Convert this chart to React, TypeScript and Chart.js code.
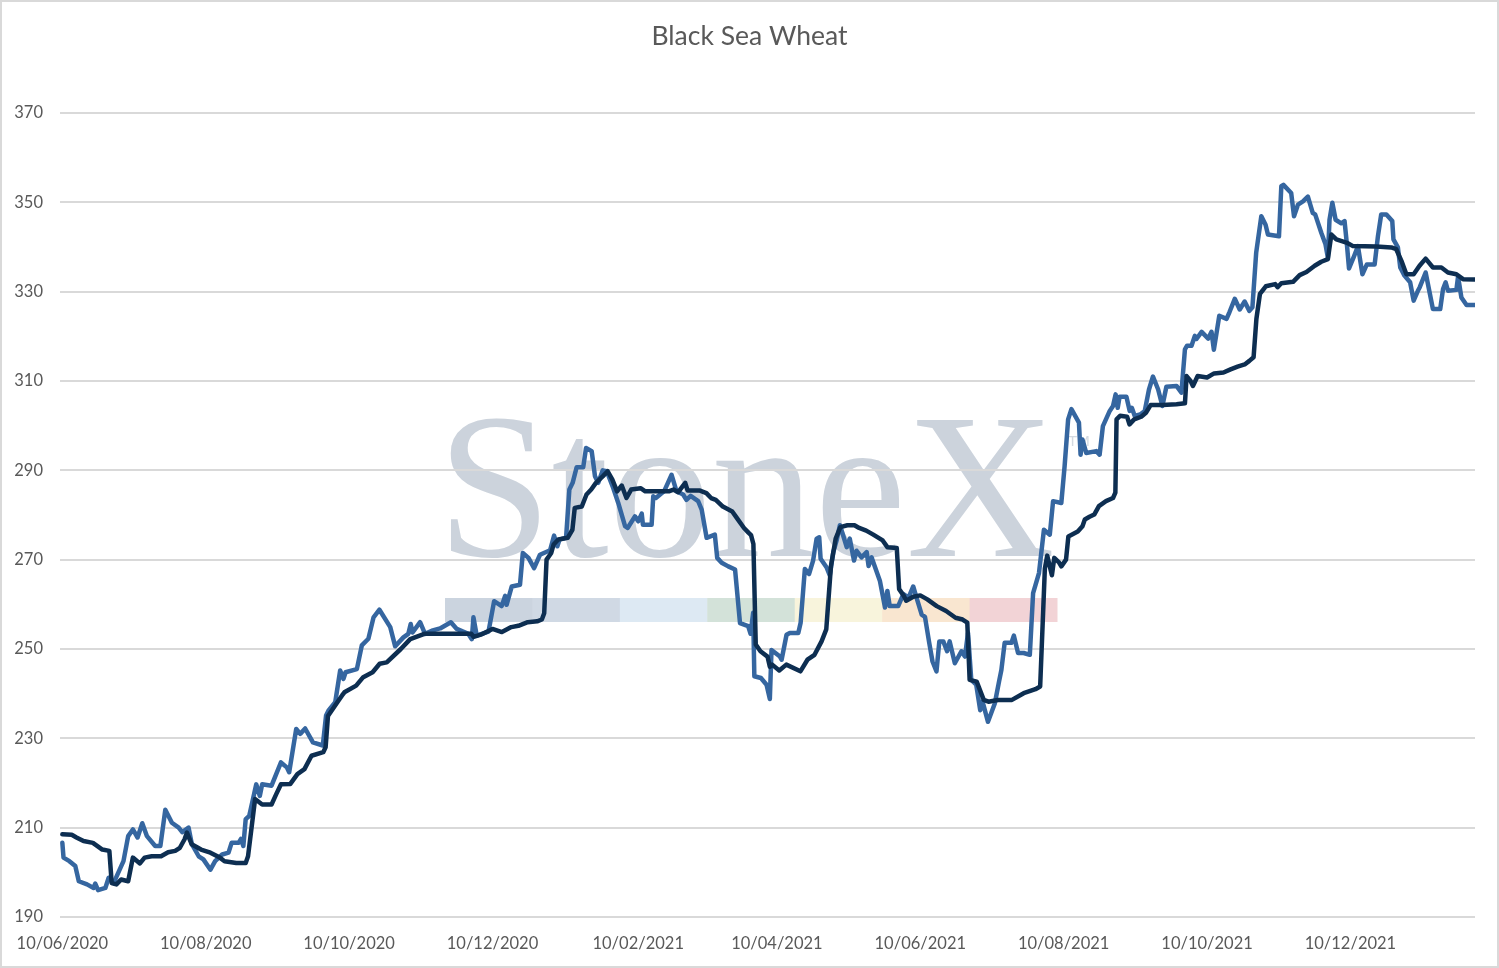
import React, { useEffect, useRef } from 'react';
import { Chart, registerables, Plugin } from 'chart.js';

Chart.register(...registerables);

const chartTitle = 'Black Sea Wheat';

// x values are days counted from 10/06/2020
const tickDays = [0, 61, 122, 183, 245, 304, 365, 426, 487, 548];
const tickLabels = [
    '10/06/2020', '10/08/2020', '10/10/2020', '10/12/2020', '10/02/2021',
    '10/04/2021', '10/06/2021', '10/08/2021', '10/10/2021', '10/12/2021',
];

const priceDays = [
    0, 0.5, 3, 5.5, 7, 10.5, 13.3, 14, 15.2, 18.3, 19.7, 21.8, 26, 28, 30, 32, 34, 36, 39.5, 41.7,
    43.8, 46.6, 49.5, 51, 53.7, 55.1, 58, 60, 63, 65, 68, 70.7, 72, 75, 76, 77, 78, 79.5, 82.5, 84,
    85, 89, 93, 95.5, 96.5, 99.5, 101.2, 103.3, 106.6, 110.8, 112.2, 113.2, 116.1, 118.2, 119.6, 120.5, 125.3, 127.4, 130.2, 132.4,
    134.9, 139.5, 141.6, 145.1, 147.2, 148.2, 149, 152.2, 154.3, 157.2, 160.7, 165.3, 167.8, 172.7, 174.2, 174.9, 176.3, 181.3, 183.7, 186.9,
    188.4, 189, 191.2, 194.7, 195.9, 198.3, 200.7, 203.2, 207.5, 209.2, 210.6, 211.5, 214.3, 215.7, 217.1, 218.8, 221.6, 222.8, 225.2, 226.6,
    228, 229.9, 231.6, 234.4, 236.5, 239.4, 240.5, 243.6, 245, 246.5, 247, 250.7, 251.4, 252.5, 254.3, 256, 259.2, 261.3, 264.1, 265.5,
    267.3, 270.5, 272, 274.1, 277.6, 278.6, 280.5, 283.3, 286.2, 288.3, 291.8, 292.8, 293.9, 294.4, 297.2, 299.6, 301, 301.7, 305.3, 306,
    308.1, 309.5, 313.1, 314.1, 315.9, 317.7, 319.4, 320.9, 322, 322.6, 325.1, 326.5, 328, 329.4, 330.8, 332.2, 333.7, 335, 336.8, 337.9,
    340, 342.2, 343, 344.3, 347.8, 350, 351, 352, 355.6, 357.8, 360, 362, 363.4, 365.6, 367, 368.8, 370.2, 371.9, 373.1, 374.8,
    376.4, 377.5, 379.7, 382.5, 384, 385.3, 386.7, 388.8, 390.5, 391.5, 393.8, 396.7, 398.5, 399.5, 400.9, 403.8, 404.8, 406.6, 409, 411.6,
    413, 415.5, 417.6, 420.1, 421.5, 425, 426.4, 427.9, 429.3, 432.5, 433.2, 434, 435.6, 439.9, 441.3, 442.7, 445.6, 447, 448.1, 449,
    449.8, 452.7, 454.1, 455, 456.2, 458.5, 460.5, 462.3, 464, 466.2, 468, 469.7, 474, 476.1, 477.6, 478.5, 480.4, 481.8, 482.5, 484.7,
    487.5, 488.9, 489.9, 492.2, 495.3, 496.6, 498.8, 500.9, 503, 505, 506.3, 507.9, 510.1, 511.9, 512.9, 517.6, 518.6, 519.5, 522.8, 524,
    525.7, 527.8, 529.9, 532, 533, 535.6, 537.4, 538.4, 539.1, 540.3, 541.7, 544.1, 545.5, 546.5, 547.4, 549.3, 551.2, 553.1, 555, 558.3,
    559.7, 561.1, 563.3, 565.8, 566.3, 568.2, 569.2, 571, 573.4, 574.9, 576.7, 577.5, 580, 583.1, 586.2, 587.4, 588.5, 589.5, 593.1, 593.8,
    595.2, 597.4, 601,
];
const priceValues = [
    206.6, 203.3, 202.5, 201.4, 198, 197.3, 196.5, 197.5, 196, 196.5, 198.8, 197.6, 202.5, 208.1, 209.6, 207.8, 211, 208.1, 205.9, 205.9,
    214, 211.1, 210, 209, 210, 206.3, 203.6, 202.9, 200.6, 202.5, 204, 204.4, 206.6, 206.6, 207.5, 205.9, 211.9, 212.6, 219.7, 217.1,
    219.7, 219.4, 224.6, 223.5, 222.4, 232.1, 231, 232.2, 229.1, 228.4, 235.1, 236.2, 238.1, 245.2, 243.3, 244.8, 245.5, 250.8, 252.3, 257.1,
    258.8, 254.9, 250.6, 252.6, 253.4, 255.6, 253.7, 256, 253.4, 254.1, 254.6, 256, 254.5, 253.4, 252.2, 257.1, 253, 253.9, 260.7, 259.6,
    261.9, 259.9, 264, 264.4, 271.5, 270.4, 268.1, 271.1, 272.1, 275.4, 273, 274.5, 274.9, 285.7, 287.2, 290.7, 290.7, 295, 294.3, 288.7,
    287.2, 290, 289.8, 286, 282.7, 277.5, 277.1, 279.7, 278.6, 280.3, 277.8, 277.8, 284.2, 283.8, 284.6, 285.3, 289, 285.3, 284.6, 283.4,
    284.3, 283.1, 281.2, 274.9, 275.6, 270.4, 269.3, 268.5, 267.8, 255.8, 255.1, 253.4, 258.1, 243.9, 243.5, 242, 238.8, 249.8, 248.3, 247.6,
    253.2, 253.6, 253.6, 255.9, 267.9, 266.8, 269.8, 274.7, 275, 270.2, 268.3, 266.5, 271.7, 274.3, 277.7, 275.4, 272.8, 274.7, 269.8, 272,
    270.5, 271.7, 268.6, 270.5, 265.3, 259.3, 263, 259.6, 259.6, 262.3, 261.5, 264, 261.5, 257.7, 257.2, 251.4, 247.2, 245, 251.7, 251.7,
    249.5, 251.7, 246.8, 249.5, 248.3, 253.6, 243.1, 242, 236.3, 238.2, 233.7, 237.8, 242.7, 245.3, 251.4, 251.4, 253, 249.1, 249.1, 248.7,
    262.5, 267, 276.7, 275.6, 283.1, 282.7, 290.9, 301.4, 303.7, 300.7, 293.5, 296.9, 293.9, 294.3, 293.5, 299.9, 303.3, 304.4, 307, 304,
    306.5, 306.5, 303.3, 304, 302.2, 302.5, 303.3, 308.1, 311, 308.1, 304.4, 308.7, 308.9, 307.4, 317.1, 317.9, 317.9, 320.1, 319.4, 321,
    319.5, 321, 317, 324.6, 323.9, 325.5, 328.4, 326, 327.8, 325.7, 326.5, 338.7, 346.9, 345, 342.8, 342.4, 353.6, 353.9, 352.1, 346.9,
    349.5, 350.2, 351.3, 347.6, 347.3, 343.2, 340.6, 337.6, 346.1, 349.9, 346.1, 345.3, 345.8, 340.6, 335.2, 337.6, 340.2, 333.9, 336.1, 336.1,
    342.4, 347.3, 347.3, 345.8, 341.7, 339.9, 335.4, 333.6, 332.1, 328, 330.2, 331, 334.3, 326.1, 326.1, 330.6, 332.1, 330.2, 330.4, 333.4,
    328.7, 327, 327,
];

const averageDays = [
    0, 4, 6, 9, 13, 17, 20, 21, 23, 25, 28, 30, 33, 35, 38, 42, 45, 48, 50, 52,
    53, 55, 59, 63, 67, 69, 74, 78, 79, 82, 85, 89, 91, 93, 97, 100, 103, 106, 111, 112,
    113, 117, 119, 120, 125, 128, 132, 135, 138, 144, 148, 154, 161, 174, 175, 178, 183, 187, 191, 194,
    198, 202, 204, 205, 206, 208, 209, 211, 215, 217, 218, 221, 223, 225, 227, 230, 232, 234, 236, 238,
    240, 242, 246, 248, 251, 258, 260, 262, 265, 266, 271, 274, 276, 278, 281, 285, 287, 290, 292, 293,
    294, 295, 297, 300, 301, 302, 305, 308, 314, 317, 320, 323, 325, 327, 329, 331, 334, 337, 339, 342,
    345, 349, 351, 355, 356, 358, 359, 362, 365, 368, 372, 376, 380, 383, 385, 386, 389, 392, 394, 398,
    404, 409, 414, 416, 418, 419, 421, 422, 424, 425, 427, 428, 432, 434, 435, 437, 439, 441, 444, 447,
    448, 448.5, 450, 453, 454, 456, 459, 461, 463, 468, 474, 477.6, 478.3, 480, 481, 483, 487, 490, 494, 497,
    500, 503, 505, 506.8, 508, 509.5, 512, 516, 517, 518.6, 523.6, 526.4, 529.3, 532.8, 535.6, 538.4, 539.9, 542, 546.3, 549.1,
    559, 565.4, 567.5, 569.7, 571.8, 574.9, 577.4, 580, 583.1, 586.7, 589.5, 593.1, 595.9, 601,
];
const averageValues = [
    208.5, 208.4, 207.8, 207, 206.6, 205.1, 204.8, 197.6, 197.3, 198.4, 198, 203.3, 202, 203.3, 203.6, 203.6, 204.5, 204.8, 205.5, 207.4,
    208.9, 206.3, 205.1, 204.4, 203.3, 202.5, 202.1, 202.1, 203.6, 216.4, 215.2, 215.2, 217.5, 219.7, 219.8, 222, 223.1, 226.1, 226.9, 228,
    235, 238.1, 239.6, 240.3, 241.8, 243.7, 244.8, 246.7, 247, 250, 252.2, 253.4, 253.4, 253.4, 252.7, 253.2, 254.5, 253.8, 254.9, 255.2,
    256, 256.2, 256.6, 258, 270, 271.5, 273.4, 274.5, 274.9, 276.7, 281.6, 281.9, 284.6, 285.7, 287.2, 288.7, 289.8, 287.9, 285.3, 286.6,
    283.8, 285.7, 286, 285.3, 285.3, 285.3, 285.7, 285.1, 287.2, 285.5, 285.5, 284.9, 283.8, 283.4, 281.9, 280.8, 279.3, 277.1, 276, 275.5,
    273.5, 251, 249.5, 248.3, 246, 246.5, 245.2, 246.5, 245, 247.6, 248.7, 251.7, 254.4, 268.6, 274.7, 277.3, 277.7, 277.7, 277.1, 276.5,
    275.6, 274.3, 272.8, 272.6, 263.4, 261.9, 260.8, 261.7, 262, 261.1, 259.6, 258.5, 257, 256.6, 255.9, 243.1, 242.7, 238.6, 238.2, 238.6,
    238.6, 240.1, 241, 241.6, 268, 270.9, 266.5, 270.4, 269.4, 268.5, 270, 275.2, 276.3, 277.5, 279, 279.6, 280.1, 282, 283.1, 283.8,
    285, 301.4, 302.2, 302, 300.3, 301.4, 302, 302.9, 304.6, 304.6, 304.8, 305, 311.1, 310, 308.9, 311.1, 310.8, 311.7, 311.9, 312.6,
    313.2, 313.7, 314.5, 315.3, 323.9, 329.5, 331.2, 331.7, 331, 331.9, 332.2, 333.7, 334.4, 335.8, 336.7, 337.3, 342.8, 341.7, 341, 340.2,
    340.1, 339.9, 339.5, 336.9, 333.9, 333.9, 335.8, 337.4, 335.4, 335.4, 334.3, 333.9, 332.8, 332.7,
];

const logoBarColors = ['#cbd4df', '#d0d9e4', '#dde9f3', '#d3e2d9', '#f8f4dc', '#f9e6d0', '#f2d3d6'];

const toPoints = (days: number[], values: number[]) => days.map((d, i) => ({ x: d, y: values[i] }));

// white page, StoneX watermark behind the grid, title centred on the page, light frame
const backdrop: Plugin<'line'> = {
    id: 'backdrop',
    beforeDraw: (chart) => {
        const ctx = chart.ctx;
        ctx.save();
        ctx.fillStyle = '#ffffff';
        ctx.fillRect(0, 0, chart.width, chart.height);

        ctx.fillStyle = '#ccd3dc';
        ctx.font = '208px "Liberation Serif", serif';
        ctx.textBaseline = 'alphabetic';
        const w = ctx.measureText('StoneX').width;
        ctx.translate(437, 556);
        ctx.scale(618 / w, 1);
        ctx.fillText('StoneX', 0, 0);
        ctx.restore();

        ctx.save();
        ctx.fillStyle = '#d3d9e0';
        ctx.font = '15px "Liberation Sans", sans-serif';
        ctx.fillText('TM', 1068, 446);
        const segW = (1057 - 445) / logoBarColors.length;
        logoBarColors.forEach((c, i) => {
            ctx.fillStyle = c;
            ctx.fillRect(445 + i * segW, 598, segW + 0.5, 24);
        });
        ctx.restore();
    },
    afterDraw: (chart) => {
        const ctx = chart.ctx;
        ctx.save();
        ctx.fillStyle = '#595959';
        ctx.font = '26.5px Lato, sans-serif';
        ctx.textAlign = 'center';
        ctx.textBaseline = 'middle';
        ctx.fillText(chartTitle, chart.width / 2, 36);

        ctx.strokeStyle = '#d9d9d9';
        ctx.lineWidth = 2;
        ctx.strokeRect(1, 1, chart.width - 2, chart.height - 2);
        ctx.restore();
    },
};

const App: React.FC = () => {
    const canvas = useRef<HTMLCanvasElement>(null);

    useEffect(() => {
        document.body.style.margin = '0';
        const ctx = canvas.current;
        if (!ctx) return;

        const chart = new Chart(ctx, {
            type: 'line',
            data: {
                datasets: [
                    {
                        label: 'Average',
                        data: toPoints(averageDays, averageValues),
                        borderColor: '#0d2e51',
                        borderWidth: 4.5,
                        pointRadius: 0,
                        tension: 0,
                        borderJoinStyle: 'round',
                        borderCapStyle: 'round',
                    },
                    {
                        label: 'Price',
                        data: toPoints(priceDays, priceValues),
                        borderColor: '#3566a0',
                        borderWidth: 4.5,
                        pointRadius: 0,
                        tension: 0,
                        borderJoinStyle: 'round',
                        borderCapStyle: 'round',
                    },
                ],
            },
            options: {
                animation: false,
                responsive: false,
                layout: {
                    padding: { left: 0, right: 24, top: 113, bottom: 0 },
                },
                scales: {
                    x: {
                        type: 'linear',
                        min: -1,
                        max: 601,
                        grid: { display: false },
                        border: { display: false },
                        afterBuildTicks: (scale) => {
                            scale.ticks = tickDays.map((v) => ({ value: v }));
                        },
                        afterFit: (scale) => {
                            scale.height = 51;
                        },
                        ticks: {
                            autoSkip: false,
                            maxRotation: 0,
                            padding: 9,
                            color: '#595959',
                            font: { family: 'Lato', size: 16.5 },
                            callback: (_v, i) => tickLabels[i],
                        },
                    },
                    y: {
                        min: 190,
                        max: 370,
                        grid: { color: '#d9d9d9', lineWidth: 2, drawTicks: false },
                        border: { display: false },
                        afterFit: (scale) => {
                            scale.width = 60;
                        },
                        ticks: {
                            stepSize: 20,
                            padding: 17,
                            color: '#595959',
                            font: { family: 'Lato', size: 16.5 },
                        },
                    },
                },
                plugins: {
                    legend: { display: false },
                    tooltip: { enabled: false },
                    title: { display: false },
                },
            },
            plugins: [backdrop],
        });
        return () => chart.destroy();
    }, []);

    return <canvas ref={canvas} width={1499} height={968}></canvas>;
};

export default App;
